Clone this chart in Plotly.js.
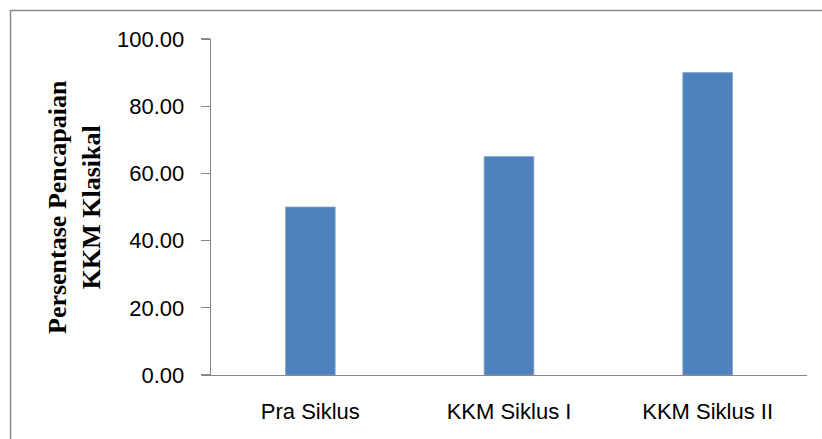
<!DOCTYPE html>
<html>
<head>
<meta charset="utf-8">
<script src="https://cdn.plot.ly/plotly-3.0.1.min.js"></script>
<style>
html,body{margin:0;padding:0;background:#fff;}
#chart{width:822px;height:439px;}
</style>
</head>
<body>
<div id="chart"></div>
<script>
var categories = ["Pra Siklus", "KKM Siklus I", "KKM Siklus II"];
var values = [50, 65, 90];
var yTickValues = [0, 20, 40, 60, 80, 100];
var yTitle = "Persentase Pencapaian<br>KKM Klasikal";

var axisGray = "#868686";

var trace = {
  type: "bar",
  x: categories,
  y: values,
  marker: {color: "#4F81BD", line: {color: "#7FA3D1", width: 0.8}},
  hoverinfo: "none"
};

var layout = {
  width: 822,
  height: 439,
  margin: {l: 211, r: 15, t: 39, b: 64, pad: 0},
  paper_bgcolor: "#ffffff",
  plot_bgcolor: "#ffffff",
  showlegend: false,
  bargap: 0.75,
  font: {family: "Liberation Sans, Arial, sans-serif", size: 22, color: "#000000"},
  xaxis: {
    type: "category",
    showline: true,
    linecolor: axisGray,
    linewidth: 1.3,
    ticks: "",
    showgrid: false,
    zeroline: false,
    ticklabelstandoff: 16,
    tickfont: {family: "Liberation Sans, Arial, sans-serif", size: 22, color: "#000"}
  },
  yaxis: {
    range: [0, 100],
    tickvals: yTickValues,
    tickformat: ".2f",
    showline: true,
    linecolor: axisGray,
    linewidth: 1.3,
    ticks: "outside",
    ticklen: 9,
    tickcolor: axisGray,
    tickwidth: 1.3,
    showgrid: false,
    zeroline: false,
    ticklabelstandoff: 12,
    tickfont: {family: "Liberation Sans, Arial, sans-serif", size: 22, color: "#000"}
  },
  annotations: [{
    text: "<b>" + yTitle + "</b>",
    xref: "paper", yref: "paper",
    x: (74 - 211) / 596, y: 0.5,
    xanchor: "center", yanchor: "middle",
    textangle: -90,
    showarrow: false,
    font: {family: "Liberation Serif, Times New Roman, serif", size: 26, color: "#000"}
  }],
  shapes: [{
    type: "rect",
    xref: "paper", yref: "paper",
    x0: (10.5 - 211) / 596, x1: 1.1,
    y0: -0.3, y1: (375 - 10.5) / 336,
    line: {color: "#8a8a8a", width: 1.5},
    fillcolor: "rgba(0,0,0,0)",
    layer: "below"
  }]
};

Plotly.newPlot("chart", [trace], layout, {displayModeBar: false, staticPlot: true});
</script>
</body>
</html>
